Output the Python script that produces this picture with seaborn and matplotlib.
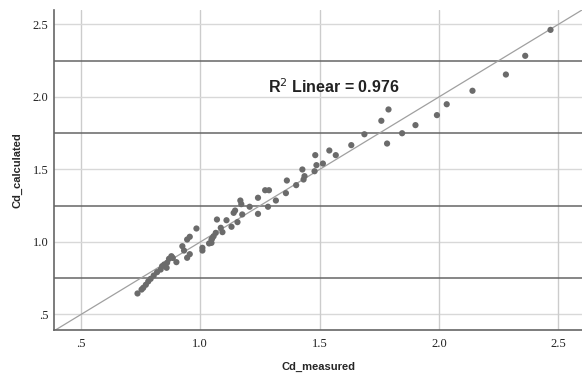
import numpy as np
import pandas as pd
import matplotlib
matplotlib.use("Agg")
import matplotlib.pyplot as plt
import seaborn as sns

cd_measured = [0.737, 0.754, 0.761, 0.772, 0.782, 0.792, 0.805, 0.819, 0.834, 0.840,
               0.849, 0.859, 0.861, 0.869, 0.879, 0.885, 0.900, 0.925, 0.932, 0.945,
               0.956, 0.945, 0.956, 0.984, 1.009, 1.009, 1.037, 1.047, 1.050, 1.056,
               1.065, 1.047, 1.070, 1.086, 1.093, 1.110, 1.131, 1.156, 1.140, 1.146,
               1.168, 1.172, 1.176, 1.207, 1.242, 1.242, 1.284, 1.272, 1.288, 1.317,
               1.359, 1.363, 1.402, 1.433, 1.437, 1.428, 1.479, 1.487, 1.514, 1.482,
               1.541, 1.568, 1.633, 1.688, 1.759, 1.789, 1.783, 1.846, 1.902, 1.992,
               2.033, 2.141, 2.281, 2.362, 2.468]
cd_calculated = [0.645, 0.672, 0.684, 0.705, 0.728, 0.746, 0.769, 0.792, 0.810, 0.833,
                 0.845, 0.822, 0.857, 0.884, 0.902, 0.890, 0.861, 0.971, 0.941, 0.891,
                 0.916, 1.017, 1.036, 1.093, 0.960, 0.941, 0.990, 1.017, 1.025, 1.040,
                 1.063, 0.994, 1.155, 1.098, 1.068, 1.150, 1.105, 1.137, 1.201, 1.217,
                 1.286, 1.261, 1.190, 1.243, 1.194, 1.305, 1.243, 1.357, 1.357, 1.286,
                 1.337, 1.424, 1.392, 1.431, 1.454, 1.500, 1.488, 1.530, 1.541, 1.599,
                 1.631, 1.599, 1.668, 1.743, 1.836, 1.914, 1.679, 1.750, 1.806, 1.875,
                 1.950, 2.043, 2.155, 2.284, 2.463]
tick_values = [0.5, 1.0, 1.5, 2.0, 2.5]
tick_labels = [".5", "1.0", "1.5", "2.0", "2.5"]
ref_lines = [0.75, 1.25, 1.75, 2.25]
r2_text = "R$^2$ Linear = 0.976"

df = pd.DataFrame({"Cd_measured": cd_measured, "Cd_calculated": cd_calculated})

sns.set_style("white")
plt.rcParams["font.family"] = ["Liberation Sans", "DejaVu Sans"]

fig = plt.figure(figsize=(5.82, 3.76), dpi=100)
ax = fig.add_axes([54/582, 46/376, 1 - 54/582, 320/376])

lo, hi = 0.387, 2.60
ax.set_xlim(lo, hi)
ax.set_ylim(0.393, 2.60)

for v in tick_values:
    ax.axvline(v, color="#cccccc", lw=1.0, zorder=0)
    ax.axhline(v, color="#d8d8d8", lw=1.0, zorder=0)
for v in ref_lines:
    ax.axhline(v, color="#666666", lw=1.1, zorder=1)

ax.plot([lo, hi], [lo, hi], color="#a0a0a0", lw=0.9, zorder=2)

sns.scatterplot(data=df, x="Cd_measured", y="Cd_calculated", ax=ax,
                color="#6b6b6b", s=20, edgecolor="none", zorder=3)

ax.text(1.559, 2.07, r2_text, fontsize=11.5, fontweight="bold",
        ha="center", va="center", color="#222222")

ax.set_xticks(tick_values)
ax.set_xticklabels(tick_labels, family="Liberation Serif", fontsize=9)
ax.set_yticks(tick_values)
ax.set_yticklabels(tick_labels, family="Liberation Serif", fontsize=9)
ax.tick_params(axis="both", length=0, colors="#222222")
ax.tick_params(axis="y", pad=4)
ax.tick_params(axis="x", pad=6)

ax.set_xlabel("Cd_measured", fontsize=8, fontweight="bold", labelpad=8)
ax.set_ylabel("Cd_calculated", fontsize=8, fontweight="bold", labelpad=7)

for s in ["top", "right"]:
    ax.spines[s].set_visible(False)
for s in ["left", "bottom"]:
    ax.spines[s].set_color("#666666")
    ax.spines[s].set_linewidth(1.2)

fig.savefig("out.png", dpi=100)
